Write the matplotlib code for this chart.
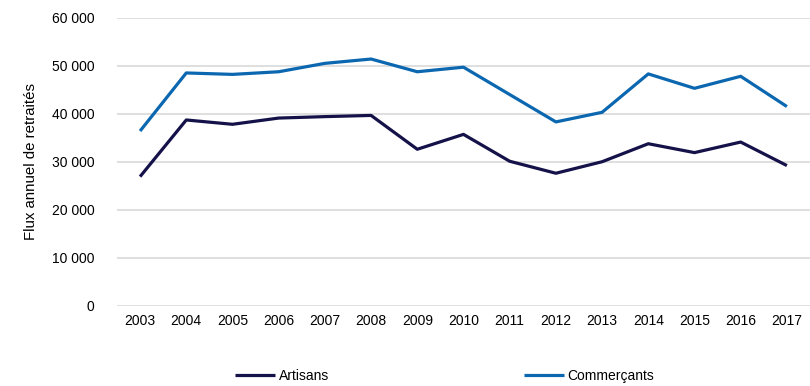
import matplotlib
matplotlib.use("Agg")
import matplotlib.pyplot as plt
from matplotlib.ticker import FuncFormatter

plt.rcParams["font.family"] = ["Liberation Sans", "DejaVu Sans"]

years = [2003, 2004, 2005, 2006, 2007, 2008, 2009, 2010,
         2011, 2012, 2013, 2014, 2015, 2016, 2017]
artisans = [26900, 38700, 37800, 39100, 39400, 39650, 32600, 35700,
            30100, 27600, 30000, 33750, 31900, 34100, 29200]
commercants = [36400, 48500, 48200, 48750, 50500, 51400, 48750, 49700,
               44000, 38300, 40300, 48300, 45300, 47800, 41500]

fig = plt.figure(figsize=(8.1, 3.86), dpi=100)
ax = fig.add_axes([0.1444, 0.208, 0.8556, 0.746])

x = range(len(years))
ax.plot(x, artisans, color="#15124a", lw=2.3, label="Artisans", solid_capstyle="butt")
ax.plot(x, commercants, color="#0b67b0", lw=2.3, label="Commerçants", solid_capstyle="butt")

ax.set_xlim(-0.5, len(years) - 0.5)
ax.set_ylim(0, 60000)
ax.set_yticks(range(0, 60001, 10000))
ax.yaxis.set_major_formatter(FuncFormatter(lambda v, p: f"{int(v):,}".replace(",", " ")))
ax.set_xticks(list(x))
ax.set_xticklabels([str(y) for y in years])
ax.tick_params(length=0, labelsize=10, colors="#000000", pad=6)
ax.tick_params(axis="y", pad=16)
ax.grid(axis="y", color="#d9d9d9", lw=1.2)
ax.set_axisbelow(True)
for s in ax.spines.values():
    s.set_visible(False)

ax.set_ylabel("Flux annuel de retraités", fontsize=10.8, labelpad=10)

fig.legend(loc="center", bbox_to_anchor=(0.549, 0.026), ncol=2, frameon=False,
           fontsize=10, handlelength=2.9, handletextpad=0.25, columnspacing=14.0)

fig.savefig("out.png", dpi=100)
